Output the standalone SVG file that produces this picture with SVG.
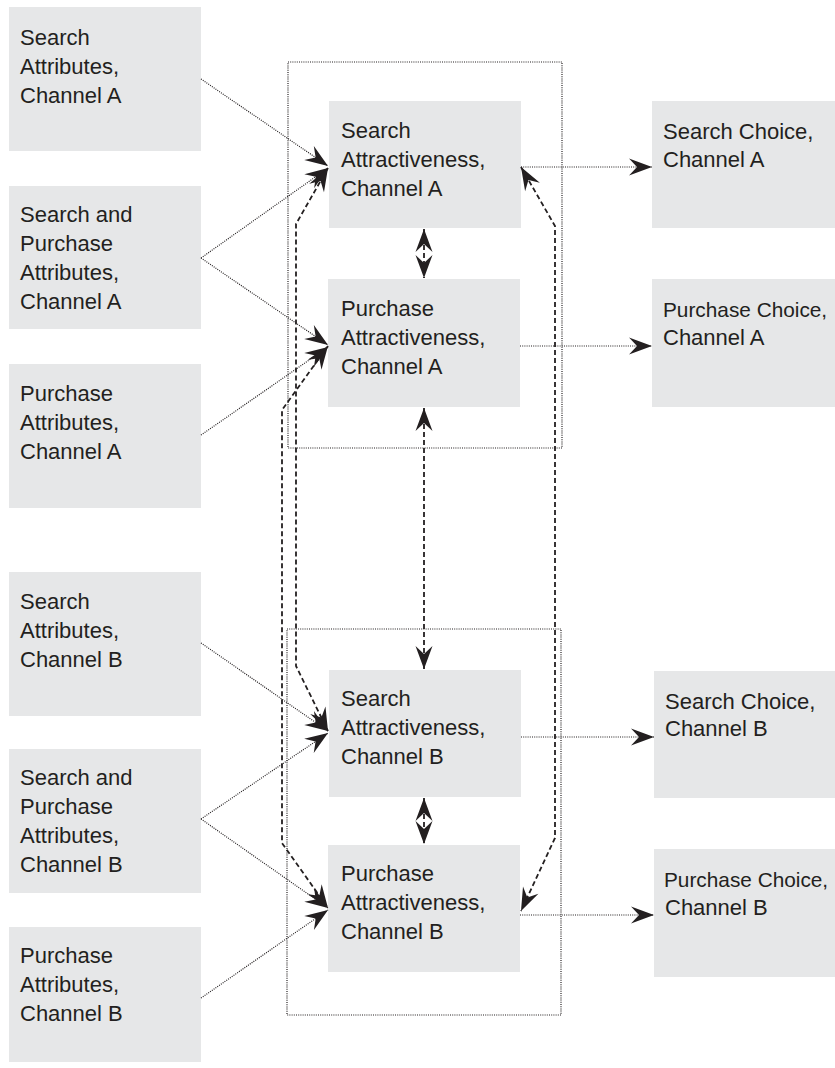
<svg xmlns="http://www.w3.org/2000/svg" width="835" height="1068" viewBox="0 0 835 1068">
<style>
.box{fill:#e6e7e8}
text{font-family:"Liberation Sans",Arial,sans-serif;font-size:22px;fill:#231f20}
text.sm{font-size:20.8px}
.dot{fill:none;stroke:#231f20;stroke-width:1.2;stroke-dasharray:1 1.2}
.dash{fill:none;stroke:#231f20;stroke-width:1.8;stroke-dasharray:5 3}
.frame{fill:none;stroke:#231f20;stroke-width:1.2;stroke-dasharray:1 1.2}
.arr{marker-end:url(#ah)}
.bi{marker-start:url(#ah);marker-end:url(#ah)}
</style>
<defs>
<marker id="ah" markerUnits="userSpaceOnUse" markerWidth="26" markerHeight="20" viewBox="-24 -10 26 20" refX="0" refY="0" orient="auto-start-reverse">
<path d="M0,0 L-23,-8.5 L-15,0 L-23,8.5 Z" fill="#231f20"/>
</marker>
</defs>
<g id="frames">
<rect class="frame" x="288" y="62" width="274" height="386"/>
<rect class="frame" x="287" y="629" width="274" height="386"/>
</g>
<g id="n-sattrA"><rect class="box" x="9" y="7" width="192" height="144"/><text x="20" y="45">Search</text><text x="20" y="74">Attributes,</text><text x="20" y="103">Channel A</text></g>
<g id="n-spattrA"><rect class="box" x="9" y="186" width="192" height="143"/><text x="20" y="222">Search and</text><text x="20" y="251">Purchase</text><text x="20" y="280">Attributes,</text><text x="20" y="309">Channel A</text></g>
<g id="n-pattrA"><rect class="box" x="9" y="364" width="192" height="144"/><text x="20" y="401">Purchase</text><text x="20" y="430">Attributes,</text><text x="20" y="459">Channel A</text></g>
<g id="n-sattrB"><rect class="box" x="9" y="572" width="192" height="144"/><text x="20" y="609">Search</text><text x="20" y="638">Attributes,</text><text x="20" y="667">Channel B</text></g>
<g id="n-spattrB"><rect class="box" x="9" y="749" width="192" height="144"/><text x="20" y="785">Search and</text><text x="20" y="814">Purchase</text><text x="20" y="843">Attributes,</text><text x="20" y="872">Channel B</text></g>
<g id="n-pattrB"><rect class="box" x="9" y="927" width="192" height="135"/><text x="20" y="963">Purchase</text><text x="20" y="992">Attributes,</text><text x="20" y="1021">Channel B</text></g>
<g id="n-sattrctA"><rect class="box" x="329" y="101" width="192" height="127"/><text x="341" y="138">Search</text><text x="341" y="167">Attractiveness,</text><text x="341" y="196">Channel A</text></g>
<g id="n-pattrctA"><rect class="box" x="328" y="279" width="192" height="128"/><text x="341" y="316">Purchase</text><text x="341" y="345">Attractiveness,</text><text x="341" y="374">Channel A</text></g>
<g id="n-sattrctB"><rect class="box" x="329" y="670" width="192" height="127"/><text x="341" y="706">Search</text><text x="341" y="735">Attractiveness,</text><text x="341" y="764">Channel B</text></g>
<g id="n-pattrctB"><rect class="box" x="328" y="845" width="192" height="127"/><text x="341" y="881">Purchase</text><text x="341" y="910">Attractiveness,</text><text x="341" y="939">Channel B</text></g>
<g id="n-schA"><rect class="box" x="652" y="101" width="183" height="127"/><text x="663" y="139">Search Choice,</text><text x="663" y="167">Channel A</text></g>
<g id="n-pchA"><rect class="box" x="652" y="279" width="183" height="128"/><text class="sm" x="663" y="317">Purchase Choice,</text><text x="663" y="345">Channel A</text></g>
<g id="n-schB"><rect class="box" x="654" y="671" width="181" height="127"/><text x="665" y="709">Search Choice,</text><text x="665" y="736">Channel B</text></g>
<g id="n-pchB"><rect class="box" x="654" y="849" width="181" height="128"/><text class="sm" x="664" y="887">Purchase Choice,</text><text x="665" y="915">Channel B</text></g>
<g id="connectors">
<path class="dot arr" d="M201,79 L328,166"/>
<path class="dot arr" d="M201,258 L328,168"/>
<path class="dot arr" d="M201,258 L328,345"/>
<path class="dot arr" d="M201,435 L328,347"/>
<path class="dot arr" d="M201,643 L328,731"/>
<path class="dot arr" d="M201,819 L328,733"/>
<path class="dot arr" d="M201,819 L328,908"/>
<path class="dot arr" d="M201,998 L328,910"/>
<path class="dot arr" d="M521,167 L652,167"/>
<path class="dot arr" d="M520,346 L652,346"/>
<path class="dot arr" d="M521,737 L654,737"/>
<path class="dot arr" d="M520,915 L654,915"/>
<path class="dash bi" d="M328,168 L296,224 L296,666 L328,731"/>
<path class="dash bi" d="M328,346 L282,410 L282,843 L328,908"/>
<path class="dash bi" d="M521,167 L555,226 L555,838 L521,911"/>
<path class="dash bi" d="M424,408 L424,669"/>
<path class="dash bi" d="M424,229 L424,278"/>
<path class="dash bi" d="M424,798 L424,844"/>
</g>
</svg>
